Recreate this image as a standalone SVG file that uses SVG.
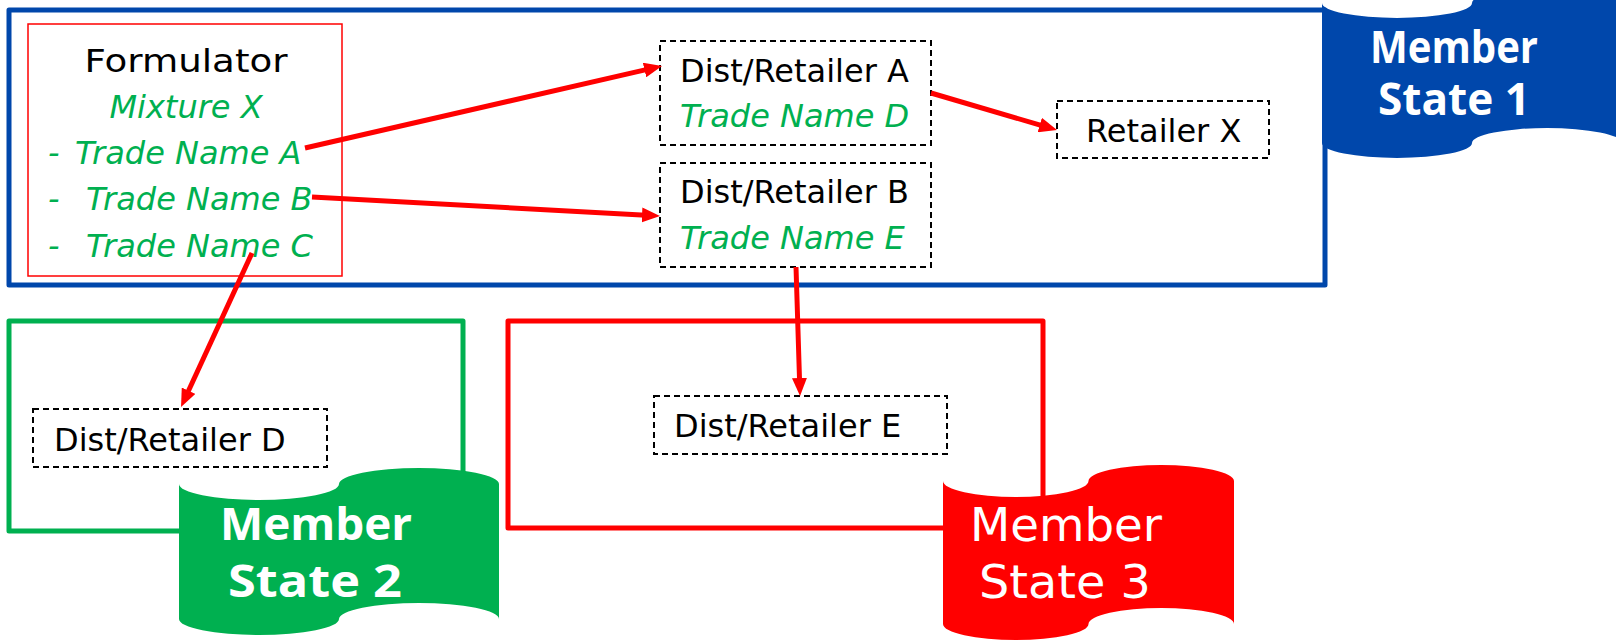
<svg xmlns="http://www.w3.org/2000/svg" width="1616" height="641" viewBox="0 0 1616 641">
<style>
.ms{fill:none;stroke-width:5;stroke-linejoin:round}
.dash{fill:#fff;stroke:#000;stroke-width:2;stroke-dasharray:6 4}
.t{font-family:"DejaVu Sans",Verdana,sans-serif;font-size:32px;fill:#000}
.g{fill:#00B050;font-style:italic}
.fb{font-family:"Open Sans","DejaVu Sans",sans-serif;font-weight:700;font-size:44px;fill:#fff;text-anchor:middle}
.fr{font-family:"DejaVu Sans",Verdana,sans-serif;font-size:46px;fill:#fff;text-anchor:middle}
#connectors line{stroke:#FF0000;stroke-width:5;marker-end:url(#ah)}
</style>
<defs>
<marker id="ah" markerUnits="userSpaceOnUse" markerWidth="18" markerHeight="15" refX="4" refY="7.5" orient="auto">
<path d="M0,0 L18,7.5 L0,15 z" fill="#FF0000"/>
</marker>
</defs>
<rect width="1616" height="641" fill="#fff"/>

<g id="ms1">
<rect class="ms" x="9" y="10" width="1316" height="275" stroke="#0047AB"/>
<path d="M1322,3 A75,15 0 0 0 1472,3 A75,15 0 0 1 1622,3 L1622,143 A75,15 0 0 0 1472,143 A75,15 0 0 1 1322,143 Z" fill="#0047AB"/>
<text class="fb" x="1454" y="63" textLength="168" lengthAdjust="spacingAndGlyphs">Member</text>
<text class="fb" x="1454" y="115" textLength="152" lengthAdjust="spacingAndGlyphs">State 1</text>
</g>

<g id="ms2">
<rect class="ms" x="9" y="321" width="454" height="210" stroke="#00B050"/>
<path d="M179,484 A80,16 0 0 0 339,484 A80,16 0 0 1 499,484 L499,619 A80,16 0 0 0 339,619 A80,16 0 0 1 179,619 Z" fill="#00B050"/>
<text class="fb" x="316" y="540" font-size="50" textLength="192" lengthAdjust="spacingAndGlyphs">Member</text>
<text class="fb" x="315" y="597" font-size="50" textLength="174" lengthAdjust="spacingAndGlyphs">State 2</text>
</g>

<g id="ms3">
<rect class="ms" x="508" y="321" width="535" height="207" stroke="#FF0000"/>
<path d="M943,481 A72.75,16 0 0 0 1088.5,481 A72.75,16 0 0 1 1234,481 L1234,624 A72.75,16 0 0 0 1088.5,624 A72.75,16 0 0 1 943,624 Z" fill="#FF0000"/>
<text class="fr" x="1066" y="541" textLength="192" lengthAdjust="spacingAndGlyphs">Member</text>
<text class="fr" x="1065" y="598" textLength="172" lengthAdjust="spacingAndGlyphs">State 3</text>
</g>

<g id="formulator">
<rect x="28" y="24" width="314" height="252" fill="#fff" stroke="#FF0000" stroke-width="1.5"/>
<text class="t" x="186" y="72" font-size="37" text-anchor="middle" textLength="203" lengthAdjust="spacingAndGlyphs">Formulator</text>
<text class="t g" x="186" y="118" text-anchor="middle">Mixture X</text>
<text class="t g" x="48" y="164">-</text>
<text class="t g" x="75" y="164">Trade Name A</text>
<text class="t g" x="48" y="210">-</text>
<text class="t g" x="86" y="210">Trade Name B</text>
<text class="t g" x="48" y="257">-</text>
<text class="t g" x="86" y="257">Trade Name C</text>
</g>

<g id="distA">
<rect class="dash" x="660" y="41" width="271" height="104"/>
<text class="t" x="680" y="82">Dist/Retailer A</text>
<text class="t g" x="680" y="127">Trade Name D</text>
</g>

<g id="distB">
<rect class="dash" x="660" y="163" width="271" height="104"/>
<text class="t" x="680" y="203">Dist/Retailer B</text>
<text class="t g" x="680" y="249">Trade Name E</text>
</g>

<g id="retailerX">
<rect class="dash" x="1057" y="101" width="212" height="57"/>
<text class="t" x="1086" y="142">Retailer X</text>
</g>

<g id="distD">
<rect class="dash" x="33" y="409" width="294" height="58"/>
<text class="t" x="54" y="451">Dist/Retailer D</text>
</g>

<g id="distE">
<rect class="dash" x="654" y="396" width="293" height="58"/>
<text class="t" x="674" y="437">Dist/Retailer E</text>
</g>

<g id="connectors">
<line x1="305" y1="148" x2="648.4" y2="69.1"/>
<line x1="312" y1="197" x2="646" y2="215.2"/>
<line x1="252" y1="253" x2="186.9" y2="394.3"/>
<line x1="931" y1="93" x2="1043.6" y2="126.1"/>
<line x1="796" y1="267" x2="799.6" y2="382"/>
</g>
</svg>
